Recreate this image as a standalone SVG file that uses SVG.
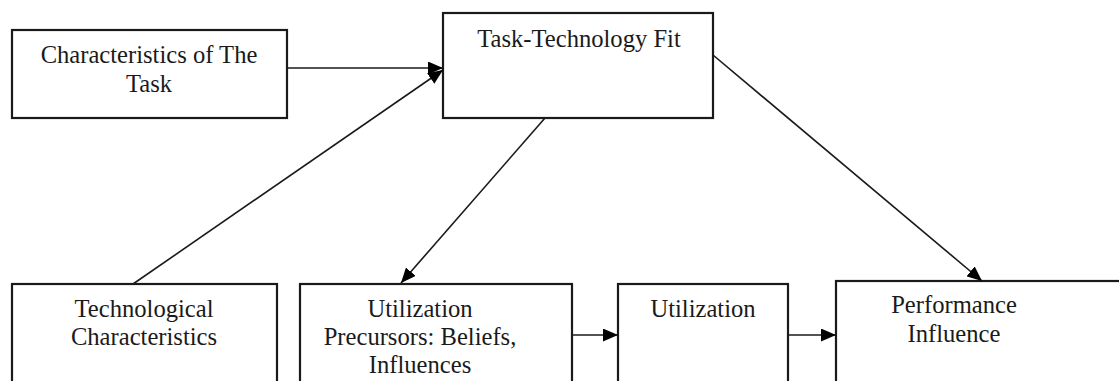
<svg xmlns="http://www.w3.org/2000/svg" width="1119" height="381" viewBox="0 0 1119 381">
<defs>
<marker id="ah" markerWidth="15" markerHeight="13" refX="15" refY="6.5" orient="auto" markerUnits="userSpaceOnUse">
<path d="M0,0 L15,6.5 L0,13 Z" fill="#000"/>
</marker>
<style>
.box{fill:#fff;stroke:#1a1a1a;stroke-width:2.2}
.lbl{font-family:'Liberation Serif','DejaVu Serif','Times New Roman',serif;font-size:24.6px;fill:#1a1a1a;text-anchor:middle}
.con{stroke:#1a1a1a;stroke-width:1.6;fill:none;marker-end:url(#ah)}
</style>
</defs>
<rect width="1119" height="381" fill="#fff"/>
<g id="task">
<rect class="box" x="12" y="30" width="275" height="88"/>
<text class="lbl" x="149" y="63">Characteristics of The</text>
<text class="lbl" x="149" y="92">Task</text>
</g>
<g id="ttf">
<rect class="box" x="443" y="13" width="270" height="105"/>
<text class="lbl" x="579" y="47">Task-Technology Fit</text>
</g>
<g id="tech">
<rect class="box" x="12" y="284" width="265" height="110"/>
<text class="lbl" x="144" y="317">Technological</text>
<text class="lbl" x="144" y="345">Characteristics</text>
</g>
<g id="precursors">
<rect class="box" x="300" y="284" width="272" height="110"/>
<text class="lbl" x="420" y="317">Utilization</text>
<text class="lbl" x="420" y="345">Precursors: Beliefs,</text>
<text class="lbl" x="420" y="373">Influences</text>
</g>
<g id="utilization">
<rect class="box" x="618" y="284" width="170" height="110"/>
<text class="lbl" x="703" y="317">Utilization</text>
</g>
<g id="performance">
<rect class="box" x="836" y="281" width="300" height="120"/>
<text class="lbl" x="954" y="313">Performance</text>
<text class="lbl" x="954" y="342">Influence</text>
</g>
<g id="connectors">
<line class="con" x1="287" y1="68" x2="443" y2="68"/>
<line class="con" x1="133" y1="284" x2="443" y2="70"/>
<line class="con" x1="545" y1="118" x2="401" y2="283"/>
<line class="con" x1="713" y1="55" x2="982" y2="281"/>
<line class="con" x1="572" y1="335" x2="618" y2="335"/>
<line class="con" x1="788" y1="335" x2="836" y2="335"/>
</g>
</svg>
